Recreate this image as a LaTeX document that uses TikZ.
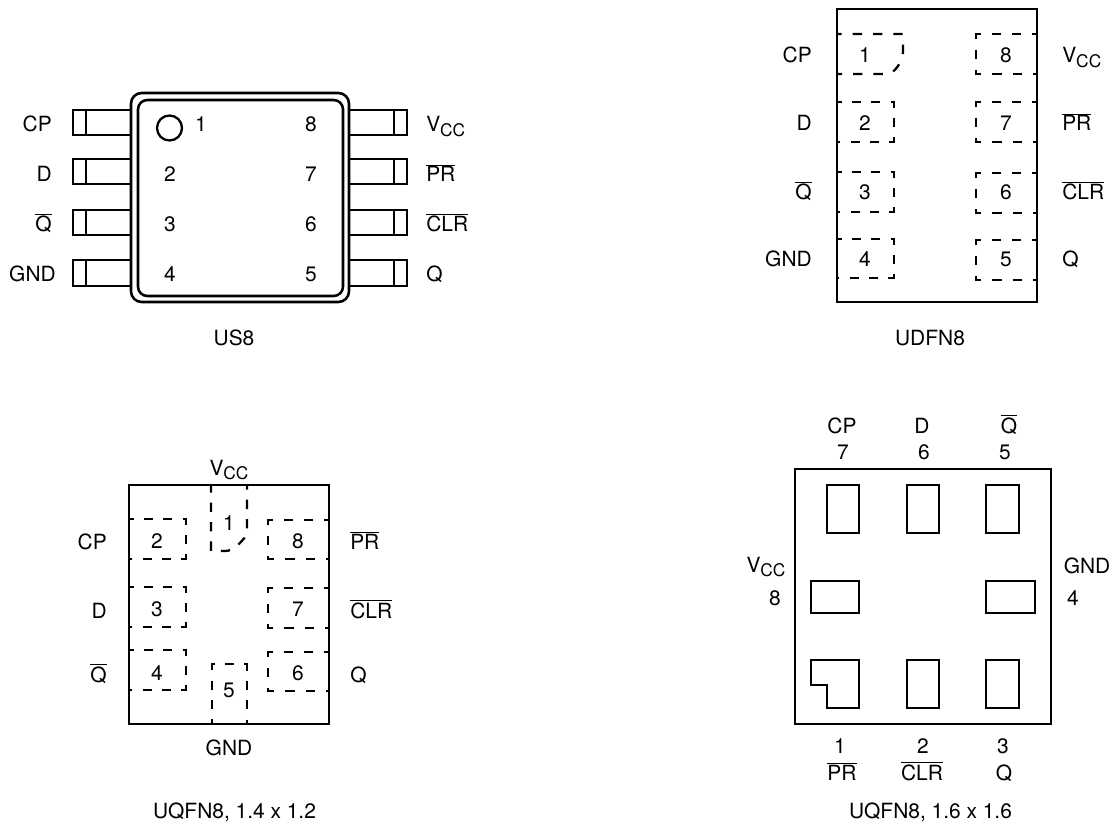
\documentclass[tikz,border=0pt]{standalone}
\usepackage{fontspec}
\setmainfont{TeX Gyre Heros}
\newcommand{\nt}[1]{$\overline{\mbox{#1}}$}
\newcommand{\vcc}{V\raisebox{-0.22em}{\fontsize{13}{13}\selectfont CC}}

\begin{document}
\begin{tikzpicture}[x=0.75pt,y=-0.75pt,line join=miter,
                    inner sep=0pt,font=\fontsize{15.7}{18}\selectfont]
    \tikzset{body/.style={draw,line width=1.9pt},
             lead/.style={draw,line width=1.7pt},
             pad/.style={draw,line width=1.7pt,dash pattern=on 7pt off #1,dash phase=3.5pt},
             pad/.default=7.55pt,
             pin/.style={anchor=base},
             lbl/.style={anchor=base east},
             lbr/.style={anchor=base west}}
    \useasboundingbox (0,0) rectangle (1114,827);

    % US8
    \draw[body,rounded corners=8pt] (131,93) rectangle (349,302);
    \draw[body,rounded corners=7pt] (138,100) rectangle (343,296);
    \draw[lead] (131,110) -- (73,110) -- (73,135) -- (131,135) (86,110) -- (86,135);
    \draw[lead] (131,159) -- (73,159) -- (73,184) -- (131,184) (86,159) -- (86,184);
    \draw[lead] (131,210) -- (73,210) -- (73,235) -- (131,235) (86,210) -- (86,235);
    \draw[lead] (131,260) -- (73,260) -- (73,286) -- (131,286) (86,260) -- (86,286);
    \draw[lead] (349,110) -- (407,110) -- (407,135) -- (349,135) (394,110) -- (394,135);
    \draw[lead] (349,159) -- (407,159) -- (407,184) -- (349,184) (394,159) -- (394,184);
    \draw[lead] (349,210) -- (407,210) -- (407,235) -- (349,235) (394,210) -- (394,235);
    \draw[lead] (349,260) -- (407,260) -- (407,286) -- (349,286) (394,260) -- (394,286);
    \draw[lead] (169.5,128) circle (12.5);
    \node[pin] (us1) at (201,132) {1};
    \node[pin] (us2) at (170,182) {2};
    \node[pin] (us3) at (170,232) {3};
    \node[pin] (us4) at (170,282) {4};
    \node[pin] (us8) at (311,132) {8};
    \node[pin] (us7) at (311,182) {7};
    \node[pin] (us6) at (311,232) {6};
    \node[pin] (us5) at (311,282) {5};
    \node[lbl] (uscp) at (52,132) {CP};
    \node[lbl] (usd) at (52,182) {D};
    \node[lbl] (usqn) at (52,232) {\nt{Q}};
    \node[lbl] (usgnd) at (56,282) {GND};
    \node[lbr] (usvcc) at (426,132) {\vcc};
    \node[lbr] (uspr) at (426,182) {\nt{PR}};
    \node[lbr] (usclr) at (426,232) {\nt{CLR}};
    \node[lbr] (usq) at (426,282) {Q};
    \node[pin] (usname) at (234,345) {US8};

    % UDFN8
    \draw[body] (837,9) rectangle (1037,302);
    \draw[pad=8.25pt] (837,34) -- (903,34) -- (903,52) .. controls (903,60) and (895,74) .. (887,74) -- (837,74);
    \draw[pad] (837,102) -- (894,102) -- (894,142) -- (837,142);
    \draw[pad] (837,172) -- (894,172) -- (894,212) -- (837,212);
    \draw[pad] (837,239) -- (894,239) -- (894,278) -- (837,278);
    \draw[pad=8.25pt] (1037,34) -- (976,34) -- (976,74) -- (1037,74);
    \draw[pad=8.25pt] (1037,102) -- (976,102) -- (976,142) -- (1037,142);
    \draw[pad=8.25pt] (1037,173) -- (976,173) -- (976,213) -- (1037,213);
    \draw[pad=8.25pt] (1037,240) -- (976,240) -- (976,280) -- (1037,280);
    \node[pin] (ud1) at (865,63) {1};
    \node[pin] (ud2) at (865,131) {2};
    \node[pin] (ud3) at (865,200) {3};
    \node[pin] (ud4) at (865,267) {4};
    \node[pin] (ud8) at (1006,63) {8};
    \node[pin] (ud7) at (1006,131) {7};
    \node[pin] (ud6) at (1006,200) {6};
    \node[pin] (ud5) at (1006,267) {5};
    \node[lbl] (udcp) at (812,63) {CP};
    \node[lbl] (udd) at (812,131) {D};
    \node[lbl] (udqn) at (812,200) {\nt{Q}};
    \node[lbl] (udgnd) at (812,267) {GND};
    \node[lbr] (udvcc) at (1062,63) {\vcc};
    \node[lbr] (udpr) at (1062,131) {\nt{PR}};
    \node[lbr] (udclr) at (1062,200) {\nt{CLR}};
    \node[lbr] (udq) at (1062,267) {Q};
    \node[pin] (udname) at (930,345) {UDFN8};

    % UQFN8, 1.4 x 1.2
    \draw[body] (129,485) rectangle (329,724);
    \draw[pad] (247,485) -- (247,535) .. controls (240,543) and (234,551) .. (225,551) -- (211,551) -- (211,485);
    \draw[pad] (212,724) -- (212,664) -- (247,664) -- (247,724);
    \draw[pad] (129,519) -- (186,519) -- (186,559) -- (129,559);
    \draw[pad] (129,587) -- (186,587) -- (186,627) -- (129,627);
    \draw[pad] (129,650) -- (186,650) -- (186,690) -- (129,690);
    \draw[pad=8.25pt] (329,520) -- (268,520) -- (268,559) -- (329,559);
    \draw[pad=8.25pt] (329,588) -- (268,588) -- (268,628) -- (329,628);
    \draw[pad=8.25pt] (329,652) -- (268,652) -- (268,691) -- (329,691);
    \node[pin] (qa1) at (229,530) {1};
    \node[pin] (qa2) at (157,548) {2};
    \node[pin] (qa3) at (157,616) {3};
    \node[pin] (qa4) at (157,680) {4};
    \node[pin] (qa5) at (229,697) {5};
    \node[pin] (qa6) at (298,680) {6};
    \node[pin] (qa7) at (298,616) {7};
    \node[pin] (qa8) at (298,548) {8};
    \node[pin] (qavcc) at (229,475) {\vcc};
    \node[pin] (qagnd) at (229,755) {GND};
    \node[lbl] (qacp) at (107,549) {CP};
    \node[lbl] (qad) at (107,618) {D};
    \node[lbl] (qaqn) at (107,682) {\nt{Q}};
    \node[lbr] (qapr) at (350,549) {\nt{PR}};
    \node[lbr] (qaclr) at (350,618) {\nt{CLR}};
    \node[lbr] (qaq) at (350,682) {Q};
    \node[pin] (qaname) at (234.5,818) {UQFN8, 1.4 x 1.2};

    % UQFN8, 1.6 x 1.6
    \draw[body] (795,469) rectangle (1051,724);
    \draw[lead] (827,485) rectangle (859,533);
    \draw[lead] (907,485) rectangle (939,533);
    \draw[lead] (986,485) rectangle (1019,533);
    \draw[lead] (811,581) rectangle (859,613);
    \draw[lead] (986,581) rectangle (1035,613);
    \draw[lead] (811,660) -- (859,660) -- (859,708) -- (827,708) -- (827,685) -- (811,685) -- cycle;
    \draw[lead] (907,660) rectangle (939,708);
    \draw[lead] (986,660) rectangle (1019,708);
    \node[pin] (qbcp) at (842,433) {CP};
    \node[pin] (qbd) at (922,433) {D};
    \node[pin] (qbqn) at (1009,433) {\nt{Q}};
    \node[pin] (qb7) at (843,459) {7};
    \node[pin] (qb6) at (924,459) {6};
    \node[pin] (qb5) at (1005,459) {5};
    \node[pin] (qbvcc) at (766,572) {\vcc};
    \node[pin] (qb8) at (775,605) {8};
    \node[pin] (qbgnd) at (1087,573) {GND};
    \node[pin] (qb4) at (1073,605) {4};
    \node[pin] (qb1) at (840,753) {1};
    \node[pin] (qb2) at (923,753) {2};
    \node[pin] (qb3) at (1003,753) {3};
    \node[pin] (qbpr) at (842,780) {\nt{PR}};
    \node[pin] (qbclr) at (922,780) {\nt{CLR}};
    \node[pin] (qbq) at (1004,780) {Q};
    \node[pin] (qbname) at (930.5,818) {UQFN8, 1.6 x 1.6};
\end{tikzpicture}
\end{document}
